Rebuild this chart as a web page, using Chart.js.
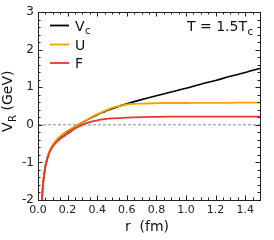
<!DOCTYPE html>
<html>
<head>
<meta charset="utf-8">
<script src="https://cdn.jsdelivr.net/npm/chart.js@4"></script>
<style>
html,body{margin:0;padding:0;background:#fff;}
#wrap{width:274px;height:240px;position:relative;}
</style>
</head>
<body>
<div id="wrap"><canvas id="c" width="274" height="240"></canvas></div>
<script>
// r in fm
const rValues = [0.027,0.03,0.035,0.04,0.05,0.06,0.07,0.08,0.1,0.12,0.15,0.2,0.25,0.3,0.35,0.4,0.45,0.5,0.56,0.6,0.7,0.8,0.9,1.0,1.1,1.2,1.3,1.4,1.5];
const vcValues = [-2.0,-1.78,-1.53,-1.36,-1.10,-0.93,-0.79,-0.69,-0.54,-0.44,-0.32,-0.18,-0.05,0.06,0.17,0.27,0.35,0.43,0.51,0.56,0.67,0.77,0.87,0.97,1.08,1.18,1.29,1.39,1.50];
const uValues  = [-2.0,-1.78,-1.53,-1.35,-1.09,-0.92,-0.78,-0.68,-0.53,-0.42,-0.30,-0.16,-0.04,0.07,0.18,0.28,0.37,0.45,0.51,0.54,0.565,0.575,0.58,0.58,0.585,0.585,0.585,0.59,0.59];
const fValues  = [-2.02,-1.80,-1.55,-1.38,-1.12,-0.95,-0.82,-0.72,-0.58,-0.48,-0.37,-0.24,-0.10,0.0,0.07,0.12,0.15,0.17,0.18,0.19,0.205,0.21,0.215,0.22,0.22,0.22,0.22,0.22,0.22];
const seriesLabels = ['V', 'U', 'F'];
const seriesSubs = ['c', '', ''];
const xTicks = [0.0,0.2,0.4,0.6,0.8,1.0,1.2,1.4];
const yTicks = [-2,-1,0,1,2,3];
const zeroLine = [0, 0];
const zeroLineX = [0, 1.5];
const tempLabel = 'T = 1.5T';
const tempSub = 'c';
const yTitle = ['V', 'R', ' (GeV)'];
const xTitle = 'r  (fm)';

const colors = ['#000000', '#f0a400', '#e8362c'];
const FONT = '"DejaVu Sans", sans-serif';

const pts = (ys) => rValues.map((r, i) => ({x: r, y: ys[i]}));

const decor = {
  id: 'decor',
  afterDraw(chart) {
    const {ctx, chartArea: a, scales: {x, y}} = chart;
    ctx.save();
    // frame
    ctx.strokeStyle = '#222';
    ctx.lineWidth = 1;
    ctx.strokeRect(Math.round(a.left) + 0.5, Math.round(a.top) + 0.5, Math.round(a.right - a.left), Math.round(a.bottom - a.top));
    // ticks (inward, all four sides)
    ctx.beginPath();
    for (let v = 0; v <= 1.5001; v += 0.05) {
      const px = Math.round(x.getPixelForValue(v)) + 0.5;
      const major = Math.abs(v / 0.2 - Math.round(v / 0.2)) < 1e-6;
      const L = major ? 4.5 : 2.5;
      ctx.moveTo(px, a.bottom); ctx.lineTo(px, a.bottom - L);
      ctx.moveTo(px, a.top); ctx.lineTo(px, a.top + L);
    }
    for (let v = -2; v <= 3.0001; v += 0.2) {
      const py = Math.round(y.getPixelForValue(v)) + 0.5;
      const major = Math.abs(v - Math.round(v)) < 1e-6;
      const L = major ? 4.5 : 2.5;
      ctx.moveTo(a.left, py); ctx.lineTo(a.left + L, py);
      ctx.moveTo(a.right, py); ctx.lineTo(a.right - L, py);
    }
    ctx.stroke();

    // legend
    const rows = [25.5, 44.5, 63];
    ctx.textBaseline = 'alphabetic';
    rows.forEach((ry, i) => {
      ctx.strokeStyle = colors[i];
      ctx.lineWidth = 1.8;
      ctx.beginPath();
      ctx.moveTo(50, ry); ctx.lineTo(69, ry);
      ctx.stroke();
      ctx.fillStyle = '#111';
      ctx.font = '14px ' + FONT;
      ctx.textAlign = 'left';
      ctx.fillText(seriesLabels[i], 75, ry + 5.3);
      if (seriesSubs[i]) {
        const w = ctx.measureText(seriesLabels[i]).width;
        ctx.font = '10px ' + FONT;
        ctx.fillText(seriesSubs[i], 75 + w + 0.5, ry + 8.5);
      }
    });

    // temperature label
    ctx.fillStyle = '#111';
    ctx.font = '14px ' + FONT;
    ctx.textAlign = 'left';
    ctx.fillText(tempLabel, 187, 31);
    const tw = ctx.measureText(tempLabel).width;
    ctx.font = '10px ' + FONT;
    ctx.fillText(tempSub, 187 + tw + 0.5, 35);

    // x title
    ctx.font = '14px ' + FONT;
    ctx.textAlign = 'center';
    ctx.fillText(xTitle, 147, 231);

    // y title (rotated)
    ctx.translate(12, 132);
    ctx.rotate(-Math.PI / 2);
    ctx.textAlign = 'left';
    ctx.font = '14px ' + FONT;
    ctx.fillText(yTitle[0], 0, 0);
    let off = ctx.measureText(yTitle[0]).width;
    ctx.font = '10px ' + FONT;
    ctx.fillText(yTitle[1], off + 0.5, 3.5);
    off += ctx.measureText(yTitle[1]).width + 0.5;
    ctx.font = '14px ' + FONT;
    ctx.fillText(yTitle[2], off, 0);
    ctx.restore();
  }
};

new Chart(document.getElementById('c'), {
  type: 'line',
  data: {
    datasets: [
      {label: 'Vc', data: pts(vcValues), borderColor: colors[0], borderWidth: 1.6, order: 3},
      {label: 'U', data: pts(uValues), borderColor: colors[1], borderWidth: 1.8, order: 2},
      {label: 'F', data: pts(fValues), borderColor: colors[2], borderWidth: 1.8, order: 1},
      {label: 'zero', data: zeroLineX.map((xv, i) => ({x: xv, y: zeroLine[i]})), borderColor: '#8a8a8a', borderWidth: 1, borderDash: [3, 2], order: 4, tension: 0}
    ]
  },
  options: {
    responsive: false,
    animation: false,
    devicePixelRatio: 1,
    layout: {padding: {left: 0, right: 14, top: 12, bottom: 0}},
    elements: {point: {radius: 0}, line: {cubicInterpolationMode: 'monotone', fill: false}},
    plugins: {legend: {display: false}, tooltip: {enabled: false}},
    scales: {
      x: {
        type: 'linear', min: 0, max: 1.5,
        grid: {display: false, drawTicks: false},
        border: {display: false},
        afterBuildTicks: (s) => { s.ticks = xTicks.map(v => ({value: v})); },
        afterFit: (s) => { s.height = 40; },
        ticks: {padding: 4, color: '#222', font: {family: FONT, size: 11}, callback: (v) => Number(v).toFixed(1), maxRotation: 0, autoSkip: false}
      },
      y: {
        type: 'linear', min: -2, max: 3,
        grid: {display: false, drawTicks: false},
        border: {display: false},
        afterBuildTicks: (s) => { s.ticks = yTicks.map(v => ({value: v})); },
        afterFit: (s) => { s.width = 38; },
        ticks: {padding: 4, color: '#222', font: {family: FONT, size: 12}, autoSkip: false}
      }
    }
  },
  plugins: [decor]
});
</script>
</body>
</html>
